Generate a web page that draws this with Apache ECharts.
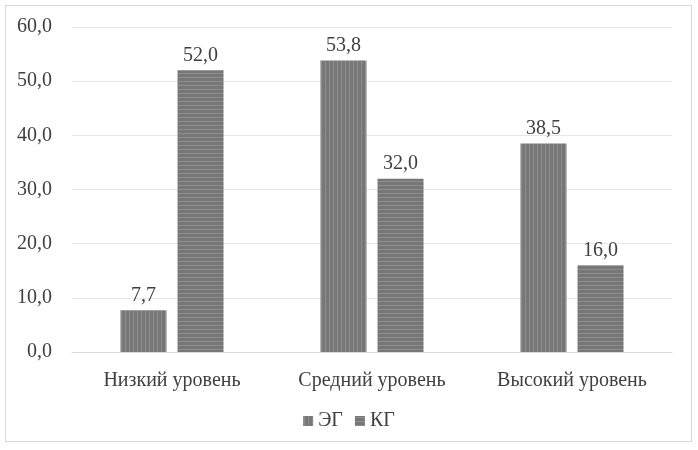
<!DOCTYPE html>
<html><head><meta charset="utf-8">
<script src="https://cdn.jsdelivr.net/npm/echarts@6/dist/echarts.min.js"></script>
<style>html,body{margin:0;padding:0;background:#fff}#wrap{position:absolute;left:5px;top:5px;width:687px;height:437px;border:1px solid #d9d9d9;box-sizing:border-box}#c{width:698px;height:450px;position:absolute;left:0;top:0}</style>
</head><body><div id="wrap"></div><div id="c"></div>
<script>
const categories = ['Низкий уровень', 'Средний уровень', 'Высокий уровень'];
const seriesNames = ['ЭГ', 'КГ'];
const egValues = [7.7, 53.8, 38.5];
const kgValues = [52.0, 32.0, 16.0];
const yTicks = [0, 10, 20, 30, 40, 50, 60];

function stripes(vertical) {
  const c = document.createElement('canvas');
  c.width = 4; c.height = 4;
  const ctx = c.getContext('2d');
  ctx.fillStyle = '#777777';
  ctx.fillRect(0, 0, 4, 4);
  ctx.fillStyle = '#8e8e8e';
  if (vertical) ctx.fillRect(1, 0, 1, 4); else ctx.fillRect(0, 1, 4, 1);
  return c;
}
const font = '"Liberation Serif", "Times New Roman", serif';
const fs = 20;
const chart = echarts.init(document.getElementById('c'), null, {renderer: 'canvas'});
const lbl = {show: true, position: 'top', color: '#404040', fontFamily: font, fontSize: fs, formatter: p => p.value.toFixed(1).replace('.', ','), distance: 5};
chart.setOption({
  animation: false,
  textStyle: {fontFamily: font},
  grid: {left: 72, right: 26, top: 27, bottom: 98, containLabel: false},
  legend: {bottom: 14, left: 'center', itemWidth: 10, itemHeight: 10, itemGap: 12,
    textStyle: {fontFamily: font, fontSize: fs, color: '#404040'},
    data: seriesNames.map((n, i) => ({name: n, icon: 'rect'}))},
  xAxis: {type: 'category', data: categories,
    axisLine: {lineStyle: {color: '#d9d9d9'}}, axisTick: {show: false},
    axisLabel: {fontFamily: font, fontSize: fs, color: '#404040', margin: 19}},
  yAxis: {type: 'value', min: yTicks[0], max: yTicks[yTicks.length - 1], interval: 10,
    axisLabel: {fontFamily: font, fontSize: fs, color: '#404040', margin: 20, formatter: v => v.toFixed(1).replace('.', ',')},
    splitLine: {lineStyle: {color: '#e6e6e6'}}, axisLine: {show: false}, axisTick: {show: false}},
  series: [
    {name: seriesNames[0], type: 'bar', data: egValues, barWidth: 46, barGap: '24%',
      itemStyle: {color: {image: stripes(true), repeat: 'repeat'}}, label: lbl},
    {name: seriesNames[1], type: 'bar', data: kgValues, barWidth: 46,
      itemStyle: {color: {image: stripes(false), repeat: 'repeat'}}, label: lbl}
  ]
});
</script></body></html>
